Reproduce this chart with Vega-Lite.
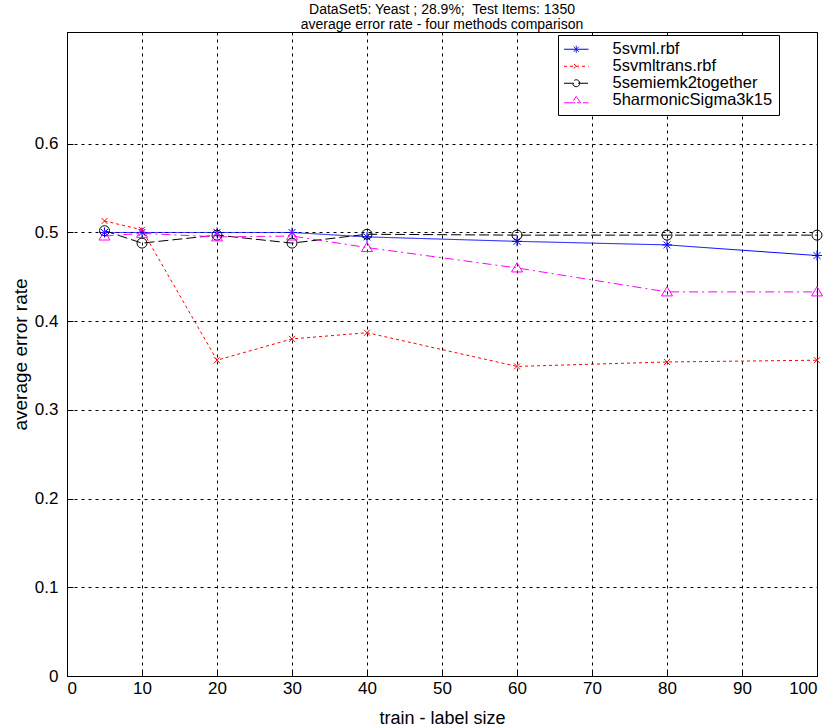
{
  "$schema": "https://vega.github.io/schema/vega-lite/v6.json",
  "autosize": {"type": "none"},
  "width": 750,
  "height": 644,
  "padding": {"left": 67, "top": 32, "right": 18, "bottom": 52},
  "background": "white",
  "title": {
    "text": ["DataSet5: Yeast ; 28.9%;\u00a0 Test Items: 1350", "average error rate - four methods comparison"],
    "font": "Liberation Sans",
    "fontSize": 14,
    "fontWeight": "normal",
    "color": "#000",
    "anchor": "middle",
    "frame": "group",
    "lineHeight": 15,
    "offset": 0
  },
  "data": {
    "values": [
      {"x": 5, "series": "5svml.rbf", "y": 0.500},
      {"x": 10, "series": "5svml.rbf", "y": 0.500},
      {"x": 20, "series": "5svml.rbf", "y": 0.500},
      {"x": 30, "series": "5svml.rbf", "y": 0.500},
      {"x": 40, "series": "5svml.rbf", "y": 0.495},
      {"x": 60, "series": "5svml.rbf", "y": 0.490},
      {"x": 80, "series": "5svml.rbf", "y": 0.486},
      {"x": 100, "series": "5svml.rbf", "y": 0.474},
      {"x": 5, "series": "5svmltrans.rbf", "y": 0.513},
      {"x": 10, "series": "5svmltrans.rbf", "y": 0.503},
      {"x": 20, "series": "5svmltrans.rbf", "y": 0.356},
      {"x": 30, "series": "5svmltrans.rbf", "y": 0.380},
      {"x": 40, "series": "5svmltrans.rbf", "y": 0.387},
      {"x": 60, "series": "5svmltrans.rbf", "y": 0.349},
      {"x": 80, "series": "5svmltrans.rbf", "y": 0.354},
      {"x": 100, "series": "5svmltrans.rbf", "y": 0.356},
      {"x": 5, "series": "5semiemk2together", "y": 0.502},
      {"x": 10, "series": "5semiemk2together", "y": 0.488},
      {"x": 20, "series": "5semiemk2together", "y": 0.497},
      {"x": 30, "series": "5semiemk2together", "y": 0.488},
      {"x": 40, "series": "5semiemk2together", "y": 0.498},
      {"x": 60, "series": "5semiemk2together", "y": 0.497},
      {"x": 80, "series": "5semiemk2together", "y": 0.497},
      {"x": 100, "series": "5semiemk2together", "y": 0.497},
      {"x": 5, "series": "5harmonicSigma3k15", "y": 0.496},
      {"x": 10, "series": "5harmonicSigma3k15", "y": 0.499},
      {"x": 20, "series": "5harmonicSigma3k15", "y": 0.495},
      {"x": 30, "series": "5harmonicSigma3k15", "y": 0.496},
      {"x": 40, "series": "5harmonicSigma3k15", "y": 0.483},
      {"x": 60, "series": "5harmonicSigma3k15", "y": 0.460},
      {"x": 80, "series": "5harmonicSigma3k15", "y": 0.433},
      {"x": 100, "series": "5harmonicSigma3k15", "y": 0.433}
    ]
  },
  "encoding": {
    "x": {
      "field": "x", "type": "quantitative",
      "scale": {"domain": [0, 100], "nice": false, "zero": false},
      "axis": {"values": [0,10,20,30,40,50,60,70,80,90,100], "title": "train - label size", "titlePadding": 13, "titleFontSize": 18}
    },
    "y": {
      "field": "y", "type": "quantitative",
      "scale": {"domain": [0, 0.726], "nice": false},
      "axis": {"values": [0,0.1,0.2,0.3,0.4,0.5,0.6], "format": "~g", "title": "average error rate", "titlePadding": 4, "titleFontSize": 19, "labelPadding": 15}
    },
    "color": {
      "field": "series", "type": "nominal",
      "scale": {
        "domain": ["5svml.rbf", "5svmltrans.rbf", "5semiemk2together", "5harmonicSigma3k15"],
        "range": ["#0000ff", "#ff0000", "#000000", "#ff00ff"]
      },
      "legend": {
        "title": null,
        "orient": "none",
        "legendX": 491,
        "legendY": 3,
        "direction": "vertical",
        "padding": 6,
        "fillColor": "white",
        "strokeColor": "#000",
        "labelFont": "Liberation Sans",
        "labelFontSize": 16.5,
        "labelColor": "#000",
        "labelLimit": 400,
        "symbolSize": 196,
        "symbolStrokeWidth": 1,
        "symbolOffset": 4,
        "labelOffset": 28,
        "rowPadding": 0
      }
    }
  },
  "layer": [
    {
      "mark": {"type": "line", "strokeWidth": 1},
      "encoding": {
        "strokeDash": {
          "field": "series", "type": "nominal",
          "scale": {
            "domain": ["5svml.rbf", "5svmltrans.rbf", "5semiemk2together", "5harmonicSigma3k15"],
            "range": [[1, 0], [3, 3], [10, 4], [9, 4, 2, 4]]
          }
        }
      }
    },
    {
      "transform": [{"filter": "datum.series === '5svml.rbf'"}],
      "mark": {"type": "point", "filled": false, "strokeWidth": 1, "size": 100, "opacity": 1, "shape": "M-1,0L1,0M0,-1L0,1M-0.7,-0.7L0.7,0.7M-0.7,0.7L0.7,-0.7"}
    },
    {
      "transform": [{"filter": "datum.series === '5svmltrans.rbf'"}],
      "mark": {"type": "point", "filled": false, "strokeWidth": 1, "size": 100, "opacity": 1, "shape": "M-0.6,-0.6L0.6,0.6M-0.6,0.6L0.6,-0.6"}
    },
    {
      "transform": [{"filter": "datum.series === '5semiemk2together'"}],
      "mark": {"type": "point", "filled": false, "strokeWidth": 1, "size": 100, "opacity": 1, "shape": "M1,0A1,1 0 1,1 -1,0A1,1 0 1,1 1,0"}
    },
    {
      "transform": [{"filter": "datum.series === '5harmonicSigma3k15'"}],
      "mark": {"type": "point", "filled": false, "strokeWidth": 1, "size": 100, "opacity": 1, "shape": "M0,-1.05L1.1,0.8L-1.1,0.8Z"}
    },
    {
      "transform": [{"filter": "datum.x < 0"}],
      "mark": {"type": "point", "filled": false, "strokeWidth": 1, "opacity": 1},
      "encoding": {
        "shape": {
          "field": "series", "type": "nominal",
          "scale": {
            "domain": ["5svml.rbf", "5svmltrans.rbf", "5semiemk2together", "5harmonicSigma3k15"],
            "range": [
              "M-1.75,0L1.75,0M0,-0.5L0,0.5M-0.36,-0.36L0.36,0.36M-0.36,0.36L0.36,-0.36",
              "M-1.75,0L1.75,0M-0.32,-0.32L0.32,0.32M-0.32,0.32L0.32,-0.32",
              "M-1.75,0L1.75,0M0.5,0A0.5,0.5 0 1,1 -0.5,0A0.5,0.5 0 1,1 0.5,0",
              "M-1.75,0.36L1.75,0.36M0,-0.55L0.62,0.36L-0.62,0.36Z"
            ]
          }
        }
      }
    }
  ],
  "config": {
    "view": {"stroke": "#000", "strokeWidth": 1},
    "axis": {
      "labelFont": "Liberation Sans",
      "labelFontSize": 17,
      "labelColor": "#000",
      "titleFont": "Liberation Sans",
      "titleFontSize": 18,
      "titleFontWeight": "normal",
      "titleColor": "#000",
      "domainColor": "#000",
      "domainWidth": 1,
      "tickColor": "#000",
      "tickSize": -6,
      "labelPadding": 10,
      "grid": true,
      "gridColor": "#000",
      "gridOpacity": 1,
      "gridDash": [3, 4],
      "gridWidth": 1
    }
  }
}
